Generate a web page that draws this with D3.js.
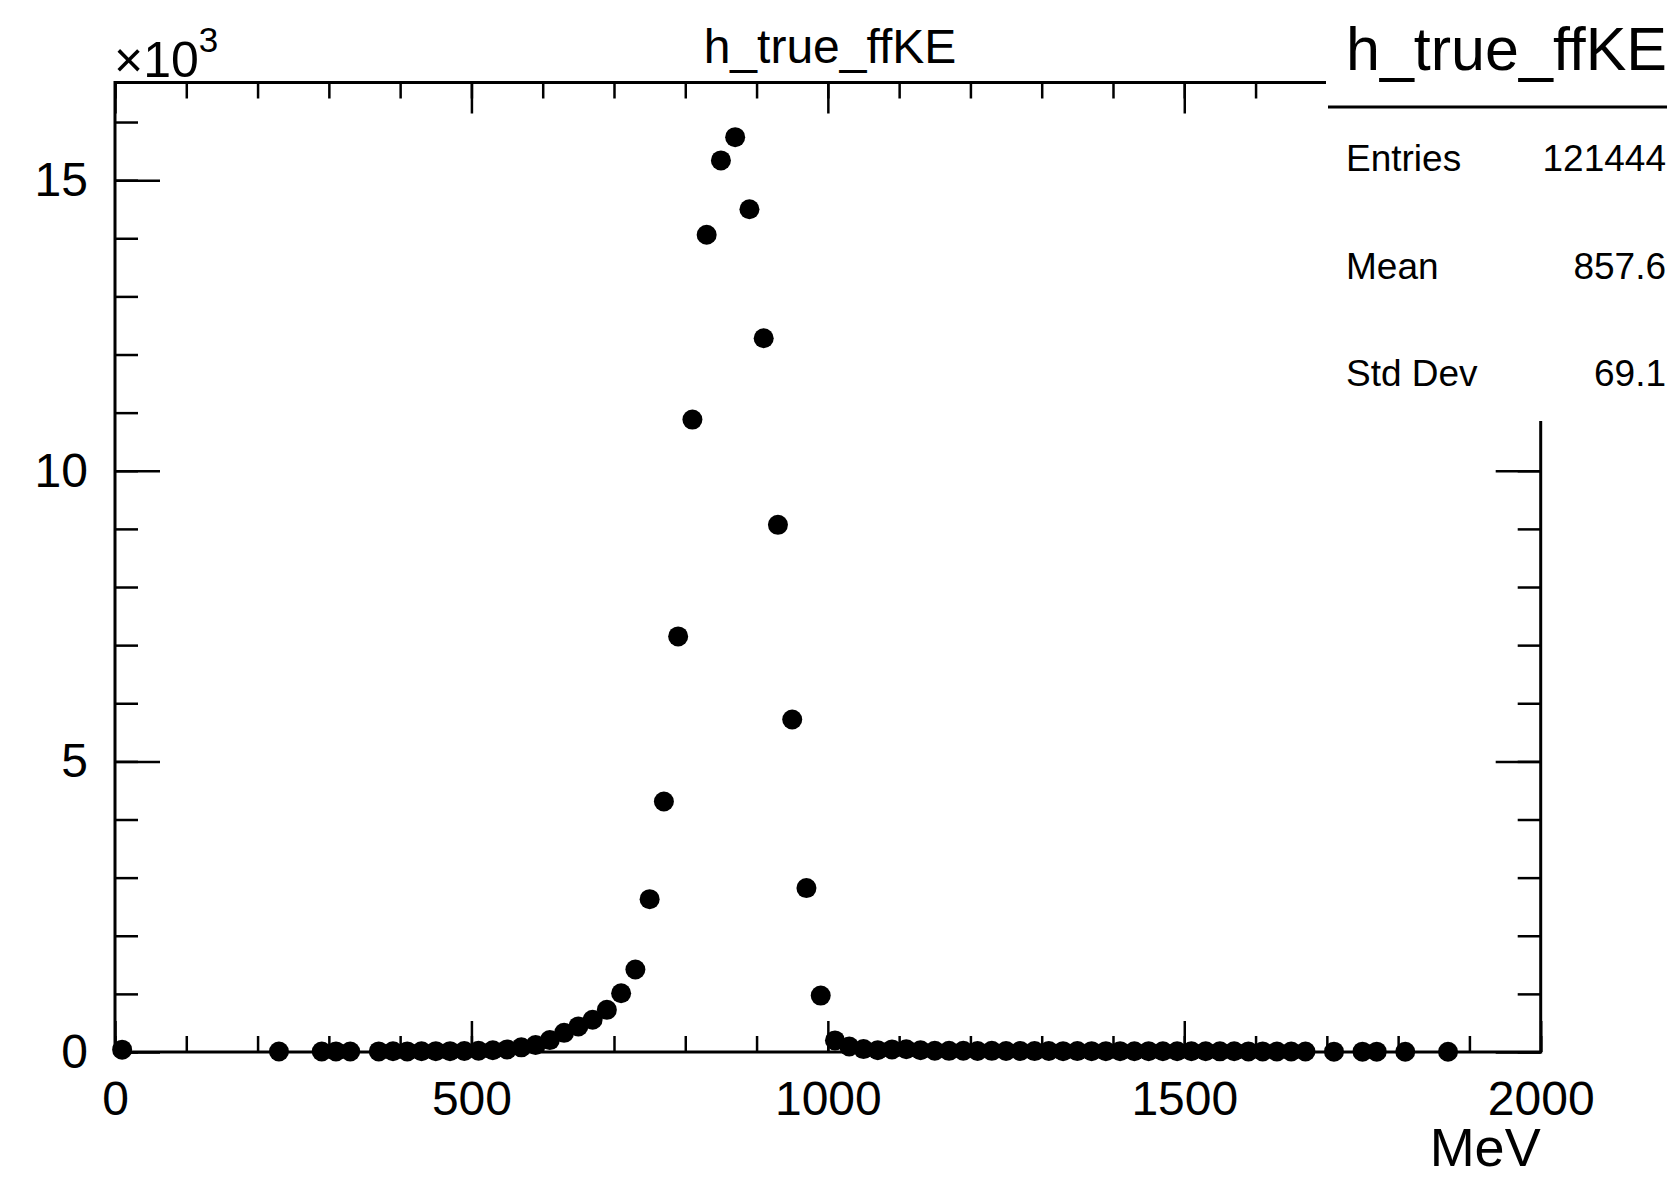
<!DOCTYPE html>
<html lang="en">
<meta charset="utf-8">
<head>
    <script src="https://d3js.org/d3.v7.min.js"></script>
    <style>
        body { margin: 0; background: #fff; }
        text { font-family: "Liberation Sans", Arial, Helvetica, sans-serif; fill: #000; }
    </style>
</head>
<body>
<script>
// bin centres (MeV) of the non-empty bins, 20 MeV wide
const energy = [
    10, 230, 290, 310, 330,
    370, 390, 410, 430, 450, 470, 490, 510, 530, 550, 570, 590,
    610, 630, 650, 670, 690, 710, 730, 750, 770, 790,
    810, 830, 850, 870, 890, 910, 930, 950, 970, 990,
    1010, 1030, 1050, 1070, 1090, 1110, 1130, 1150, 1170, 1190,
    1210, 1230, 1250, 1270, 1290, 1310, 1330, 1350, 1370, 1390,
    1410, 1430, 1450, 1470, 1490, 1510, 1530, 1550, 1570, 1590,
    1610, 1630, 1650, 1670, 1710, 1750, 1770, 1810, 1870
];
// entries per bin
const entries = [
    40, 8, 8, 10, 8,
    10, 12, 10, 12, 14, 15, 18, 22, 30, 45, 80, 120,
    205, 330, 440, 555, 725, 1010, 1420, 2630, 4310, 7150,
    10880, 14060, 15340, 15740, 14500, 12280, 9070, 5720, 2820, 970,
    200, 95, 50, 32, 45, 48, 30, 22, 20, 22,
    18, 20, 18, 17, 16, 18, 15, 16, 14, 15,
    14, 13, 15, 12, 13, 12, 12, 11, 12, 10,
    10, 9, 9, 8, 6, 6, 6, 5, 5
];

// axis ticks
const xMajor = [0, 500, 1000, 1500, 2000];
const xMinor = d3.range(0, 2001, 100);
const yMajor = [0, 5000, 10000, 15000];
const yMinor = d3.range(0, 16001, 1000);

const stats = [
    {name: "Entries", value: "121444"},
    {name: "Mean", value: "857.6"},
    {name: "Std Dev", value: "69.1"}
];

const W = 1680, H = 1177;
const frame = {left: 115, right: 1540.7, top: 82.5, bottom: 1052};

const svg = d3.select("body").append("svg")
    .attr("width", W)
    .attr("height", H);

const x = d3.scaleLinear().domain([0, 2000]).range([frame.left, frame.right]);
const y = d3.scaleLinear().domain([0, 16680]).range([frame.bottom, frame.top]);

// frame
svg.append("rect")
    .attr("x", frame.left)
    .attr("y", frame.top)
    .attr("width", frame.right - frame.left)
    .attr("height", frame.bottom - frame.top)
    .attr("fill", "none")
    .attr("stroke", "#000")
    .attr("stroke-width", 3);

function styleAxis(g) {
    g.select(".domain").remove();
    g.selectAll(".tick line").attr("stroke", "#000").attr("stroke-width", 2.5);
    g.selectAll("text").attr("fill", "#000").style("font-size", "48px")
        .style("font-family", '"Liberation Sans", Arial, Helvetica, sans-serif');
}

// bottom axis
svg.append("g")
    .attr("transform", "translate(0," + frame.bottom + ")")
    .call(d3.axisBottom(x).tickValues(xMinor).tickSize(-16).tickFormat(""))
    .call(styleAxis);
svg.append("g")
    .attr("transform", "translate(0," + frame.bottom + ")")
    .call(d3.axisBottom(x).tickValues(xMajor).tickSize(-31).tickPadding(29).tickFormat(d3.format("d")))
    .call(styleAxis);

// top axis (ticks only)
svg.append("g")
    .attr("transform", "translate(0," + frame.top + ")")
    .call(d3.axisTop(x).tickValues(xMinor).tickSize(-16).tickFormat(""))
    .call(styleAxis);
svg.append("g")
    .attr("transform", "translate(0," + frame.top + ")")
    .call(d3.axisTop(x).tickValues(xMajor).tickSize(-31).tickFormat(""))
    .call(styleAxis);

// left axis
svg.append("g")
    .attr("transform", "translate(" + frame.left + ",0)")
    .call(d3.axisLeft(y).tickValues(yMinor).tickSize(-23).tickFormat(""))
    .call(styleAxis);
svg.append("g")
    .attr("transform", "translate(" + frame.left + ",0)")
    .call(d3.axisLeft(y).tickValues(yMajor).tickSize(-45).tickPadding(27).tickFormat(d => d / 1000))
    .call(styleAxis);

// right axis (ticks only)
svg.append("g")
    .attr("transform", "translate(" + frame.right + ",0)")
    .call(d3.axisRight(y).tickValues(yMinor).tickSize(-23).tickFormat(""))
    .call(styleAxis);
svg.append("g")
    .attr("transform", "translate(" + frame.right + ",0)")
    .call(d3.axisRight(y).tickValues(yMajor).tickSize(-45).tickFormat(""))
    .call(styleAxis);

// data points
const bins = energy.map((e, i) => ({e: e, n: entries[i]}));
svg.append("g").selectAll("circle")
    .data(bins)
    .enter().append("circle")
    .attr("cx", d => x(d.e))
    .attr("cy", d => y(d.n))
    .attr("r", 10)
    .attr("fill", "#000");

// x10^3 exponent
const expo = svg.append("text")
    .attr("x", frame.left - 1)
    .attr("y", 77)
    .style("font-size", "50px");
expo.append("tspan").text("\u00d710");
expo.append("tspan").attr("dy", -25).style("font-size", "35px").text("3");

// title
svg.append("text")
    .attr("x", 830)
    .attr("y", 63)
    .attr("text-anchor", "middle")
    .style("font-size", "48px")
    .text("h_true_ffKE");

// axis title
svg.append("text")
    .attr("x", frame.right)
    .attr("y", 1166)
    .attr("text-anchor", "end")
    .style("font-size", "54px")
    .text("MeV");

// stats box
const box = svg.append("g");
box.append("rect")
    .attr("x", 1326)
    .attr("y", 0)
    .attr("width", W - 1326)
    .attr("height", 421)
    .attr("fill", "#fff");
box.append("line")
    .attr("x1", 1328).attr("x2", 1667)
    .attr("y1", 107).attr("y2", 107)
    .attr("stroke", "#000")
    .attr("stroke-width", 3);
box.append("text")
    .attr("x", 1346)
    .attr("y", 70)
    .style("font-size", "61px")
    .text("h_true_ffKE");
stats.forEach(function(s, i) {
    const yy = 171 + i * 107.5;
    box.append("text")
        .attr("x", 1346)
        .attr("y", yy)
        .style("font-size", "37px")
        .text(s.name);
    box.append("text")
        .attr("x", 1666)
        .attr("y", yy)
        .attr("text-anchor", "end")
        .style("font-size", "37px")
        .text(s.value);
});
</script>
</body>
</html>
